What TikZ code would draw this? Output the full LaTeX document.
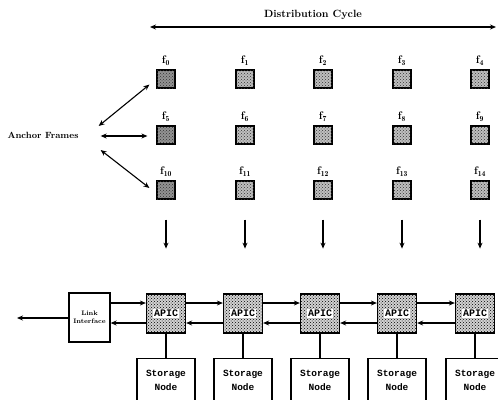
\documentclass[tikz,border=0pt]{standalone}
\usepackage{fontspec}
\setmonofont{Liberation Mono}
\usetikzlibrary{patterns,arrows.meta,calc}
\begin{document}
\begin{tikzpicture}[x=1pt,y=-1pt,
  frm/.style={draw,line width=1.2pt,minimum size=18pt,inner sep=0pt,fill=gray!50,
    postaction={pattern=crosshatch dots,pattern color=black!80}},
  afrm/.style={frm,fill=gray!85},
  flab/.style={font=\bfseries\fontsize{11}{12}\selectfont,inner sep=0pt},
  txt/.style={font=\bfseries\fontsize{9}{10}\selectfont,inner sep=0pt},
  arr/.style={-{Stealth[length=6pt,width=5pt]},line width=1.1pt},
  darr/.style={{Stealth[length=6pt,width=5pt]}-{Stealth[length=6pt,width=5pt]},line width=1.1pt},
  apic/.style={draw,line width=1.3pt,minimum width=39pt,minimum height=39pt,inner sep=0pt,
    fill=gray!35,postaction={pattern=crosshatch dots,pattern color=black}},
  apictxt/.style={fill=white,inner sep=1pt,font=\ttfamily\bfseries\fontsize{10}{11}\selectfont},
  box/.style={draw,line width=1.3pt,fill=white,inner sep=0pt},
  stor/.style={box,minimum width=58pt,minimum height=44pt,align=center,
    font=\ttfamily\bfseries\fontsize{9.5}{14}\selectfont},
]
\useasboundingbox (0,0) rectangle (498,399);
\clip (0,0) rectangle (498,399);

% distribution cycle
\node[txt,font=\bfseries\fontsize{10.5}{12}\selectfont] (dc) at (313,15) {Distribution Cycle};
\coordinate (dcl) at (150,27);
\coordinate (dcr) at (496,27);
\draw[darr] (dcl) -- (dcr);

% frames
\foreach \i/\x/\y/\s in {0/166/79/afrm,1/245/79/frm,2/323/79/frm,3/402/79/frm,4/480/79/frm,
  5/166/135/afrm,6/245/135/frm,7/323/135/frm,8/402/135/frm,9/480/135/frm,
  10/166/190/afrm,11/245/190/frm,12/323/190/frm,13/402/190/frm,14/480/190/frm}{
  \node[\s] (sq\i) at (\x,\y) {};
  \node[flab,anchor=south] (lb\i) at ($(sq\i.north)+(0,-4)$) {f$_{\mathbf{\i}}$};
}

% anchor frames
\node[txt] (af) at (43,135) {Anchor Frames};
\draw[darr] ($(af.east)+(20,-9)$) -- ($(sq0.south west)+(-7,-4)$);
\draw[darr] ($(af.east)+(22,1)$) -- ($(sq5.west)+(-9,1)$);
\draw[darr] ($(af.east)+(22,15)$) -- ($(sq10.west)+(-7,-2)$);

% down arrows
\foreach \i in {10,11,12,13,14}{
  \draw[arr] ($(sq\i.south)+(0,20)$) -- ($(sq\i.south)+(0,49)$);
}

% bottom chain
\node[box,minimum width=41pt,minimum height=49pt,align=center,
  font=\bfseries\fontsize{6.5}{8}\selectfont] (li) at (89.5,317.5) {Link\\Interface};
\coordinate (lo) at (17,318);
\draw[arr] (li.west |- lo) -- (lo);

\foreach \j/\x in {1/166,2/243,3/320,4/397,5/475}{
  \node[apic] (ap\j) at (\x,313.5) {};
  \node[apictxt] (apt\j) at (ap\j.center) {APIC};
  \node[stor,anchor=north] (st\j) at (\x,358) {Storage\\Node};
  \draw[line width=1.3pt] (ap\j.south) -- (st\j.north);
}

\draw[arr] (li.east |- 0,303) -- (ap1.west |- 0,303);
\draw[arr] (ap1.west |- 0,323) -- (li.east |- 0,323);
\foreach \a/\b in {1/2,2/3,3/4,4/5}{
  \draw[arr] (ap\a.east |- 0,303) -- (ap\b.west |- 0,303);
  \draw[arr] (ap\b.west |- 0,323) -- (ap\a.east |- 0,323);
}
\end{tikzpicture}
\end{document}
